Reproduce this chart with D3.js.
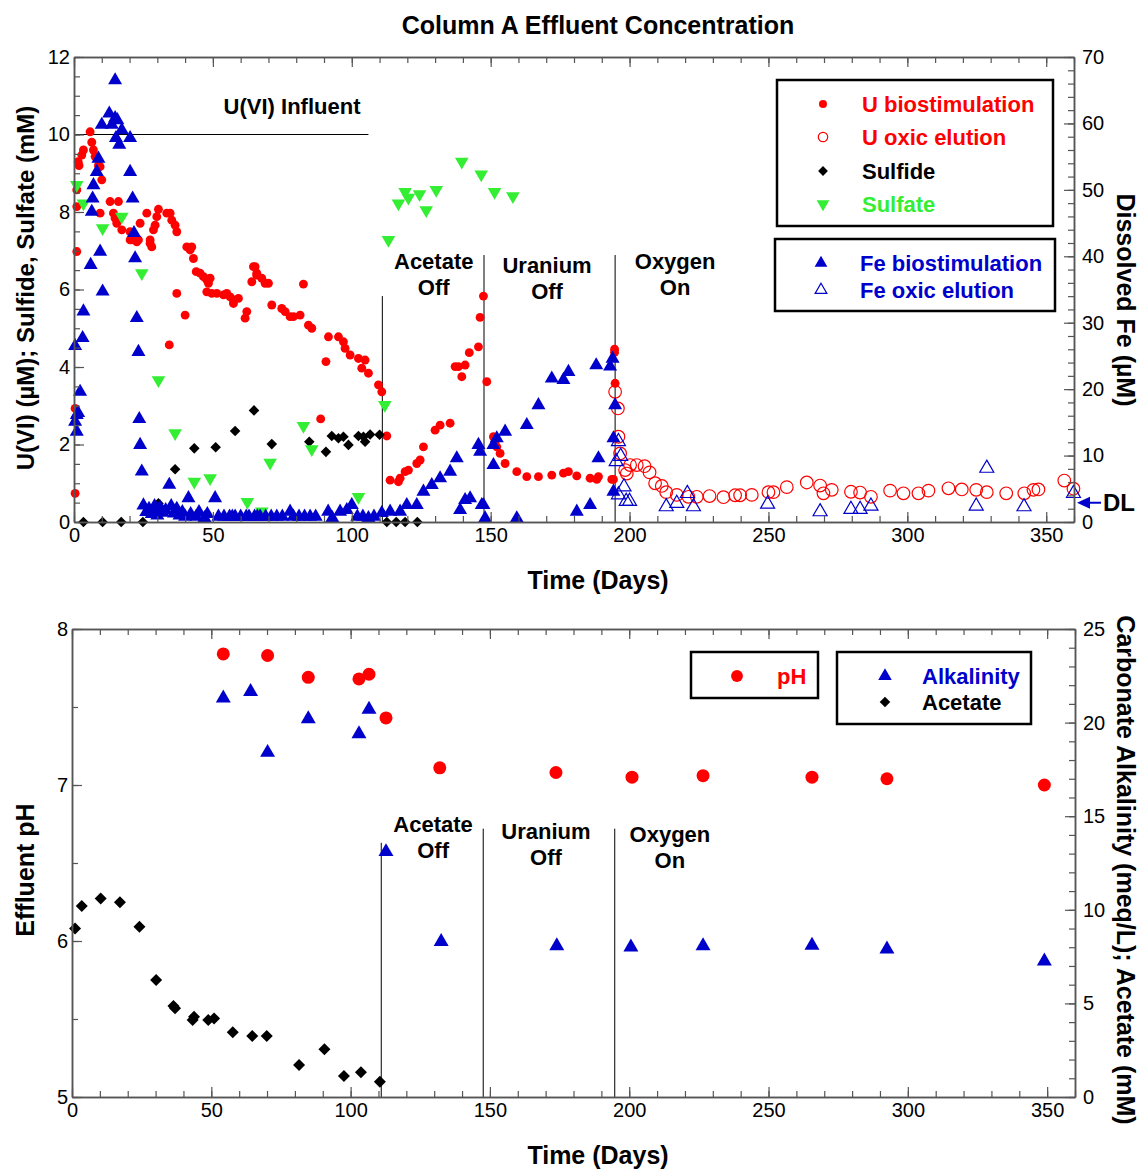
<!DOCTYPE html>
<html>
<head>
<meta charset="utf-8">
<script src="https://cdn.jsdelivr.net/npm/d3@7"></script>
<style>
	body { margin: 0; background: #fff; }
	svg text { font-family: "Liberation Sans", Arial, Helvetica, sans-serif; }
</style>
</head>
<body>
<svg id="chart" width="1142" height="1170"></svg>
<script>
'use strict';

// ---- data: [day, value] ----
var uBio = [[0.4,0.74],[0.4,2.93],[1,6.98],[1,8.14],[1,8.57],[1.5,9.3],[1.8,9.2],[2.8,9.47],[3.4,9.6],[5.8,10.07],[6.4,9.8],[7,9.6],[7.6,9.43],[8.8,9.2],[9.4,9.17],[9.4,7.97],[10,8.83],[13,8.27],[14.2,7.97],[14.8,7.84],[15.4,7.71],[16,8.27],[17.2,7.54],[20.2,7.49],[20.2,7.28],[20.8,7.28],[22.6,7.23],[23.2,7.28],[23.8,7.71],[26.2,7.97],[27.4,7.28],[27.4,7.19],[28,7.1],[28.6,7.54],[29.2,7.66],[29.8,7.88],[30.4,8.07],[33.4,7.97],[34.3,4.57],[34.6,7.97],[35.2,7.79],[36.4,7.66],[37,7.49],[37,5.9],[40,5.34],[40.6,7.1],[41.8,7.02],[42.4,7.1],[43,6.8],[44,6.46],[45.4,6.42],[46.6,6.33],[47.8,6.25],[47.8,5.94],[48.4,6.16],[49,6.29],[49.6,5.9],[51.4,5.9],[53.8,5.86],[55,5.9],[56.2,5.81],[57.4,5.73],[57.4,5.64],[59.2,5.77],[61.6,5.26],[62.2,5.43],[64,6.2],[64.6,6.59],[65.2,6.59],[65.8,6.42],[65.8,6.37],[67.6,6.29],[68.8,6.16],[70,6.16],[71.2,5.6],[74.8,5.51],[76,5.43],[77.8,5.3],[79,5.3],[81.4,5.34],[82.6,6.14],[84.4,5.08],[85.6,5.0],[88.8,2.66],[90.7,4.14],[91.6,4.78],[95.2,4.78],[97,4.65],[97.6,4.48],[99.4,4.31],[102.4,4.22],[103.6,3.97],[104.8,4.18],[106,3.84],[109.6,3.54],[110.8,3.36],[112.6,2.22],[113.8,1.08],[116.8,1.04],[117.4,1.13],[119.2,1.3],[120.4,1.34],[123.4,1.51],[124.6,1.6],[125.8,1.94],[130,2.37],[131.8,2.5],[135.4,2.55],[137.2,4.01],[138.4,4.01],[139.6,3.75],[140.8,4.05],[142.3,4.37],[145.6,4.52],[146.2,5.28],[147.4,5.83],[148.6,3.62],[151,2.2],[151.6,2.07],[152.2,1.94],[153.4,1.77],[155.2,1.51],[159.4,1.3],[163,1.17],[167.2,1.17],[172,1.21],[176.2,1.26],[178,1.3],[181,1.19],[185.8,1.13],[188.2,1.1],[188.8,1.17],[193.6,1.1],[194.2,1.1],[194.6,4.46],[194.6,4.38],[194.8,3.58]];

var uOxic = [[194.8,3.36],[195.8,2.93],[196,2.2],[196.6,1.77],[198.4,1.34],[199,1.25],[200.2,1.47],[202.6,1.47],[205.4,1.44],[207.2,1.28],[209.2,1.0],[211.6,0.93],[213.2,0.77],[217,0.7],[221.2,0.65],[224.2,0.65],[228.8,0.67],[233.8,0.64],[238,0.69],[239.8,0.69],[244,0.7],[250,0.77],[251.8,0.77],[256.6,0.9],[263.8,1.02],[268.6,0.94],[269.8,0.74],[272.8,0.83],[279.7,0.78],[283,0.76],[286.9,0.65],[293.8,0.81],[298.6,0.74],[304,0.74],[307.6,0.81],[314.8,0.87],[319.6,0.84],[324.8,0.83],[328.6,0.77],[335.6,0.74],[342.1,0.74],[345.4,0.83],[347.2,0.84],[356.5,1.07],[359.8,0.86]];

var sulfide = [[3.4,0],[10.3,0],[17,0],[24.8,0],[30.4,0.48],[36.4,1.36],[43.3,1.9],[51,1.93],[58,2.35],[64.8,2.88],[71.2,2.01],[84.7,2.07],[90.7,1.81],[92.8,2.22],[95.2,2.16],[97,2.2],[98.8,1.99],[102.4,2.22],[104.2,2.2],[104.8,2.07],[106.6,2.26],[110,2.25],[112.6,0],[116,0],[119.2,0],[123.6,0]];

var sulfate = [[1,8.7],[3.4,8.22],[10.3,7.58],[17.2,7.88],[24.4,6.42],[30.4,3.66],[36.4,2.29],[43.3,1.04],[49,1.13],[62.4,0.52],[67.6,0.27],[70.6,1.53],[82.6,2.48],[85.6,1.88],[102.4,0.65],[111.9,3.02],[113.2,7.28],[116.8,8.22],[119.2,8.52],[120.4,8.37],[124.4,8.46],[126.8,8.05],[130.4,8.57],[139.6,9.3],[146.6,8.97],[151.4,8.52],[158,8.41]];

var feBio = [[0.4,15.1],[0.4,26.5],[1,13.6],[1,16.1],[1.5,16.4],[2.2,19.6],[3.1,27.7],[3.4,31.7],[6,38.7],[6.4,46.7],[6.7,48.7],[7,50.7],[8.2,52.7],[8.8,54.7],[9.4,40.7],[10,59.8],[10.3,34.7],[12.7,61.5],[13.6,59.8],[14.8,66.5],[14.8,60.8],[15.1,57.8],[15.6,60.5],[16.3,56.8],[17.2,59],[20.2,57.8],[20.2,52.7],[21.1,48.7],[21.6,43.5],[22,39.7],[22.6,30.7],[23.2,25.6],[23.5,15.5],[23.8,11.6],[24.4,7.6],
	[25,2.5],[26,1.5],[27,2.0],[28,1.2],[29,2.4],[30,1.0],[31,2.2],[32,1.4],[33,1.8],[34.3,5.6],[35,2.4],[36,1.3],[37,2.0],[38,1.0],[39,1.5],[40,0.8],[41.2,3.6],[42,1.2],[44,0.8],[45,1.5],[47,0.6],[48,1.2],[50.8,3.6],[52,0.8],[54,0.8],[56,0.8],[57,0.8],[58,0.8],[60,0.8],[62,0.8],[63,0.8],[65,0.8],[66,0.8],[67,0.8],[69,0.8],[71,0.8],[73,0.8],[75,0.8],[77.8,1.55],[79,0.8],[81,0.8],[83,0.8],[85,0.8],[87,0.8],[91.5,1.55],[93,0.6],[95.8,1.55],[98.2,1.8],[100,2.56],[102,0.8],[104,0.8],[106,0.6],[108,0.8],[110.8,1.35],
	[113.8,1.55],[117.4,1.55],[119.8,2.56],[123.4,2.56],[125.8,4.56],[128.8,5.57],[131.8,6.58],[135.4,7.57],[137.8,9.59],[139,1.8],[140.8,3.31],[142.6,3.57],[145.6,11.6],[146.2,10.58],[146.8,2.56],[147.4,2.56],[148,0.56],[151,8.58],[151,11.6],[152.2,12.6],[155.2,13.6],[159.4,0.56],[163,14.6],[167.2,17.6],[172,21.6],[176.2,21.4],[178,22.6],[181,1.55],[185.8,2.56],[188,23.6],[188.8,9.59],[193,23.4],[193.9,24.6],[194.2,12.6],[194.2,4.56],[194.8,17.6]];

var feOxic = [[195.2,9.1],[196,12.1],[196.8,9.9],[196,4.1],[198,5.3],[198.8,3.1],[200,3.1],[213.2,2.3],[217,2.8],[220.8,4.3],[223,2.3],[249.7,2.7],[268.6,1.55],[279.7,1.9],[283,1.9],[286.9,2.4],[324.8,2.4],[328.6,8.1],[342,2.3],[359.8,4.3]];

var pH = [[54.3,7.84],[70.2,7.83],[84.8,7.69],[103,7.68],[106.6,7.71],[112.7,7.43],[132,7.11],[173.7,7.08],[201,7.05],[226.5,7.06],[265.6,7.05],[292.5,7.04],[349,7.0]];
var alkalinity = [[54.3,21.3],[64.1,21.65],[70.2,18.4],[84.8,20.2],[103,19.4],[106.6,20.7],[112.7,13.1],[132.5,8.3],[174,8.07],[200.6,8.0],[226.5,8.07],[265.6,8.1],[292.5,7.9],[349,7.26]];
var acetate = [[1.1,9.0],[3.5,10.2],[10.3,10.6],[17.2,10.4],[24.2,9.1],[30.2,6.25],[36.4,4.86],[37,4.74],[43.3,4.11],[43.8,4.29],[48.9,4.11],[51,4.2],[57.7,3.46],[64.7,3.26],[69.9,3.26],[81.5,1.71],[90.6,2.55],[97.6,1.12],[103.7,1.32],[110.5,0.82]];

// treatment changes (day) and annotation text
var events = [
	{day: 111, label: ['Acetate', 'Off']},
	{day: 147.6, label: ['Uranium', 'Off']},
	{day: 194.8, label: ['Oxygen', 'On']}
];
var influentU = 10, influentEnd = 106, detectionFe = 2.9;

var RED = '#ff0000', BLUE = '#0000cc', GREEN = '#33ee33', AXIS = '#555';

var svg = d3.select('#chart');

// ---- helpers ----
function axes(g, x, yL, yR, o) {
	var x0 = x.range()[0], x1 = x.range()[1],
		yb = yL.range()[0], yt = yL.range()[1];

	function put(axis, tr) {
		var a = g.append('g').attr('transform', tr).call(axis);
		a.selectAll('.domain').attr('stroke', AXIS).attr('stroke-width', 1.5);
		a.selectAll('line').attr('stroke', AXIS).attr('stroke-width', 1.2);
		a.selectAll('text').attr('font-size', 20).attr('fill', '#000');
		return a;
	}
	var none = function() { return ''; }, fmt = d3.format('d');
	var xMaj = d3.range(0, 351, 50), xMin = d3.range(0, 361, 10);
	put(d3.axisBottom(x).tickValues(xMaj).tickFormat(fmt).tickSize(-10).tickSizeOuter(0).tickPadding(6), 'translate(0,' + yb + ')');
	put(d3.axisBottom(x).tickValues(xMin).tickSize(-6).tickSizeOuter(0).tickFormat(none), 'translate(0,' + yb + ')');
	put(d3.axisTop(x).tickValues(xMaj).tickSize(-10).tickSizeOuter(0).tickFormat(none), 'translate(0,' + yt + ')');
	put(d3.axisTop(x).tickValues(xMin).tickSize(-6).tickSizeOuter(0).tickFormat(none), 'translate(0,' + yt + ')');

	put(d3.axisLeft(yL).tickValues(o.lMaj).tickFormat(fmt).tickSize(-10).tickSizeOuter(0).tickPadding(4), 'translate(' + x0 + ',0)');
	put(d3.axisLeft(yL).tickValues(o.lMin).tickSize(-6).tickSizeOuter(0).tickFormat(none), 'translate(' + x0 + ',0)');
	put(d3.axisRight(yR).tickValues(o.rMaj).tickFormat(fmt).tickSize(-10).tickSizeOuter(0).tickPadding(8), 'translate(' + x1 + ',0)');
	put(d3.axisRight(yR).tickValues(o.rMin).tickSize(-6).tickSizeOuter(0).tickFormat(none), 'translate(' + x1 + ',0)');
}

function marks(g, data, x, y, type, size, fill, stroke, rot) {
	var sym = d3.symbol().type(type).size(size);
	g.append('g').selectAll('path')
		.data(data)
		.enter()
		.append('path')
		.attr('d', sym)
		.attr('transform', function(d) {
			return 'translate(' + x(d[0]) + ',' + y(d[1]) + ')' + (rot ? ' rotate(' + rot + ')' : '');
		})
		.attr('fill', fill)
		.attr('stroke', stroke || 'none')
		.attr('stroke-width', stroke ? 1.2 : 0);
}

function label(g, x, y, txt, size, rot, color) {
	g.append('text')
		.attr('transform', 'translate(' + x + ',' + y + ')' + (rot ? ' rotate(' + rot + ')' : ''))
		.attr('text-anchor', 'middle')
		.attr('dominant-baseline', 'central')
		.attr('font-size', size)
		.attr('font-weight', 'bold')
		.attr('fill', color || '#000')
		.text(txt);
}

function legend(g, x, y, w, h, rows) {
	g.append('rect').attr('x', x).attr('y', y).attr('width', w).attr('height', h)
		.attr('fill', '#fff').attr('stroke', '#000').attr('stroke-width', 2.5);
	rows.forEach(function(r) {
		var sym = d3.symbol().type(r.type).size(r.size);
		g.append('path').attr('d', sym)
			.attr('transform', 'translate(' + r.sx + ',' + r.y + ')' + (r.rot ? ' rotate(' + r.rot + ')' : ''))
			.attr('fill', r.fill).attr('stroke', r.stroke || 'none').attr('stroke-width', 1.2);
		g.append('text').attr('x', r.tx).attr('y', r.y).attr('dominant-baseline', 'central')
			.attr('font-size', 22).attr('font-weight', 'bold').attr('fill', r.color).text(r.text);
	});
}

var downTri = {
	draw: function(ctx, size) {
		var s = Math.sqrt(size / (Math.sqrt(3) / 4)), h = s * Math.sqrt(3) / 2;
		ctx.moveTo(0, 2 * h / 3);
		ctx.lineTo(-s / 2, -h / 3);
		ctx.lineTo(s / 2, -h / 3);
		ctx.closePath();
	}
};

// ---- title ----
label(svg, 598, 25, 'Column A Effluent Concentration', 25);

// ---- top chart ----
var xT = d3.scaleLinear().domain([0, 360]).range([74, 1074]),
	yT = d3.scaleLinear().domain([0, 12]).range([522, 57]),
	yFe = d3.scaleLinear().domain([0, 70]).range([522, 57]);
var gTop = svg.append('g');

// influent line and treatment lines
gTop.append('line').attr('x1', xT(0)).attr('x2', xT(influentEnd))
	.attr('y1', yT(influentU)).attr('y2', yT(influentU)).attr('stroke', '#000');
label(gTop, xT(78.5), yT(10.71), 'U(VI) Influent', 22);
var evTopY = [5.83, 6.89, 6.89], evTopLab = [[129.5, 6.71], [170.3, 6.61], [216.4, 6.71]];
events.forEach(function(e, i) {
	gTop.append('line').attr('x1', xT(e.day)).attr('x2', xT(e.day))
		.attr('y1', yT(0)).attr('y2', yT(evTopY[i])).attr('stroke', '#000');
	label(gTop, xT(evTopLab[i][0]), yT(evTopLab[i][1]), e.label[0], 22);
	label(gTop, xT(evTopLab[i][0]), yT(evTopLab[i][1]) + 26, e.label[1], 22);
});

marks(gTop, uBio, xT, yT, d3.symbolCircle, 62, RED);
marks(gTop, uOxic, xT, yT, d3.symbolCircle, 125, 'none', RED);
marks(gTop, sulfide, xT, yT, d3.symbolSquare, 56, '#000', null, 45);
marks(gTop, sulfate, xT, yT, downTri, 80, GREEN);
marks(gTop, feBio, xT, yFe, d3.symbolTriangle, 85, BLUE);
marks(gTop, feOxic, xT, yFe, d3.symbolTriangle, 85, 'none', BLUE);

axes(gTop, xT, yT, yFe, {
	lMaj: d3.range(0, 13, 2), lMin: d3.range(0, 12.01, 0.5),
	rMaj: d3.range(0, 71, 10), rMin: d3.range(0, 71, 2)
});

// detection limit arrow
var dlY = yFe(detectionFe);
gTop.append('line').attr('x1', 1086).attr('x2', 1101).attr('y1', dlY).attr('y2', dlY)
	.attr('stroke', BLUE).attr('stroke-width', 2);
gTop.append('path').attr('d', 'M1077,' + dlY + 'L1090,' + (dlY - 6) + 'L1090,' + (dlY + 6) + 'Z').attr('fill', BLUE);
gTop.append('text').attr('x', 1103).attr('y', dlY).attr('dominant-baseline', 'central')
	.attr('font-size', 24).attr('font-weight', 'bold').text('DL');

label(gTop, 25, 288, 'U(VI) (\u00b5M); Sulfide, Sulfate (mM)', 24, -90);
label(gTop, 1126, 300, 'Dissolved Fe (\u00b5M)', 25, 90);
label(gTop, 598, 580, 'Time (Days)', 25);

legend(gTop, 777, 80, 276, 146, [
	{type: d3.symbolCircle, size: 50, fill: RED, sx: 823, tx: 862, y: 104, color: RED, text: 'U biostimulation'},
	{type: d3.symbolCircle, size: 70, fill: 'none', stroke: RED, sx: 823, tx: 862, y: 137, color: RED, text: 'U oxic elution'},
	{type: d3.symbolSquare, size: 48, fill: '#000', rot: 45, sx: 823, tx: 862, y: 171, color: '#000', text: 'Sulfide'},
	{type: downTri, size: 70, fill: GREEN, sx: 823, tx: 862, y: 204, color: GREEN, text: 'Sulfate'}
]);
legend(gTop, 775, 239, 280, 72, [
	{type: d3.symbolTriangle, size: 70, fill: BLUE, sx: 821, tx: 860, y: 263, color: BLUE, text: 'Fe biostimulation'},
	{type: d3.symbolTriangle, size: 60, fill: 'none', stroke: BLUE, sx: 821, tx: 860, y: 290, color: BLUE, text: 'Fe oxic elution'}
]);

// ---- bottom chart ----
var xB = d3.scaleLinear().domain([0, 360]).range([72, 1075]),
	yPH = d3.scaleLinear().domain([5, 8]).range([1097, 629]),
	yAlk = d3.scaleLinear().domain([0, 25]).range([1097, 629]);
var gBot = svg.append('g');

var evBotY = [6.63, 6.72, 6.72], evBotLab = [[129.6, 6.75], [170.1, 6.705], [214.6, 6.68]];
events.forEach(function(e, i) {
	gBot.append('line').attr('x1', xB(e.day)).attr('x2', xB(e.day))
		.attr('y1', yPH(5)).attr('y2', yPH(evBotY[i])).attr('stroke', '#000');
	label(gBot, xB(evBotLab[i][0]), yPH(evBotLab[i][1]), e.label[0], 22);
	label(gBot, xB(evBotLab[i][0]), yPH(evBotLab[i][1]) + 26, e.label[1], 22);
});

marks(gBot, acetate, xB, yAlk, d3.symbolSquare, 72, '#000', null, 45);
marks(gBot, alkalinity, xB, yAlk, d3.symbolTriangle, 97, BLUE);
marks(gBot, pH, xB, yPH, d3.symbolCircle, 133, RED);

axes(gBot, xB, yPH, yAlk, {
	lMaj: d3.range(5, 8.01, 1), lMin: d3.range(5, 8.01, 0.5),
	rMaj: d3.range(0, 26, 5), rMin: d3.range(0, 26, 1)
});

label(gBot, 25, 870, 'Effluent pH', 25, -90);
label(gBot, 1126, 870, 'Carbonate Alkalinity (meq/L); Acetate (mM)', 25, 90);
label(gBot, 598, 1155, 'Time (Days)', 25);

legend(gBot, 691, 652, 127, 46, [
	{type: d3.symbolCircle, size: 110, fill: RED, sx: 737, tx: 777, y: 676, color: RED, text: 'pH'}
]);
legend(gBot, 837, 652, 194, 72, [
	{type: d3.symbolTriangle, size: 80, fill: BLUE, sx: 885, tx: 922, y: 676, color: BLUE, text: 'Alkalinity'},
	{type: d3.symbolSquare, size: 56, fill: '#000', rot: 45, sx: 885, tx: 922, y: 702, color: '#000', text: 'Acetate'}
]);
</script>
</body>
</html>
